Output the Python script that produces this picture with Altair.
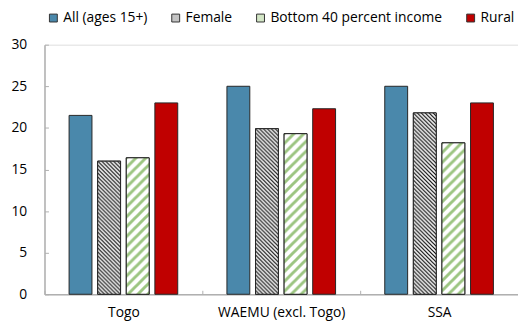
import base64
import altair as alt
import pandas as pd

regions = ["Togo", "WAEMU (excl. Togo)", "SSA"]
series = ["All (ages 15+)", "Female", "Bottom 40 percent income", "Rural"]
all_vals = [21.5, 25.0, 25.0]
female_vals = [16.0, 19.9, 21.8]
bottom_vals = [16.4, 19.3, 18.2]
rural_vals = [23.0, 22.3, 23.0]
y_ticks = [0, 5, 10, 15, 20, 25, 30]

fill_colors = ["#4a88ab", "#c4c4c4", "#d3e6c6", "#c00000"]
FONT = "Open Sans"

hatch_svg = (
    '<svg xmlns="http://www.w3.org/2000/svg" width="100%" height="100%">'
    '<defs><pattern id="h" width="4" height="4" patternUnits="userSpaceOnUse">'
    '<rect width="4" height="4" fill="#ffffff"/>'
    '<path d="M-1,-1L5,5M-1,3L1,5M3,-1L5,1" stroke="#000000" stroke-width="1.2"/>'
    '</pattern></defs><rect width="100%" height="100%" fill="url(#h)"/></svg>'
)
stripe_svg = (
    '<svg xmlns="http://www.w3.org/2000/svg" width="100%" height="100%">'
    '<defs><pattern id="s" width="10" height="10" patternUnits="userSpaceOnUse">'
    '<rect width="10" height="10" fill="#ffffff"/>'
    '<path d="M-2,12L12,-2M-2,2L2,-2M8,12L12,8" stroke="#9cc581" stroke-width="3"/>'
    '</pattern></defs><rect width="100%" height="100%" fill="url(#s)"/></svg>'
)


def to_uri(svg):
    return "data:image/svg+xml;base64," + base64.b64encode(svg.encode("utf-8")).decode("ascii")


pattern_urls = {"Female": to_uri(hatch_svg), "Bottom 40 percent income": to_uri(stripe_svg)}
patterned = list(pattern_urls.keys())

rows = []
for s, vals in zip(series, [all_vals, female_vals, bottom_vals, rural_vals]):
    for r, v in zip(regions, vals):
        rows.append({"region": r, "series": s, "value": v, "url": pattern_urls.get(s, "")})
df = pd.DataFrame(rows)

x_enc = alt.X(
    "region:N",
    sort=regions,
    scale=alt.Scale(paddingInner=0, paddingOuter=0),
    axis=alt.Axis(
        title=None, labelAngle=0, tickBand="extent", tickSize={"expr": "-4"},
        labelPadding=16, labelFontSize=14, labelFont=FONT, labelColor="#000000",
        domainColor="#b0b0b0", domainWidth=1.5, tickColor="#b0b0b0", tickWidth=1,
    ),
)
xo_enc = alt.XOffset(
    "series:N", sort=series,
    scale=alt.Scale(domain=series, paddingInner=0.2, paddingOuter=0.86),
)
y_enc = alt.Y(
    "value:Q",
    scale=alt.Scale(domain=[0, 30], nice=False, zero=True),
    axis=alt.Axis(
        title=None, values=y_ticks, grid=False, tickSize={"expr": "-4"},
        labelPadding=22, labelFontSize=14, labelFont=FONT, labelColor="#000000",
        domainColor="#b0b0b0", domainWidth=1.5, tickColor="#b0b0b0", tickWidth=1,
    ),
)

base = alt.Chart(df)

bars = base.mark_bar(stroke="#262626", strokeWidth=1).encode(
    x=x_enc,
    xOffset=xo_enc,
    y=y_enc,
    color=alt.Color(
        "series:N", sort=series,
        scale=alt.Scale(domain=series, range=fill_colors),
        legend=alt.Legend(
            title=None, orient="none", legendX=2, legendY=-34, direction="horizontal",
            columns=4, symbolType="square", symbolSize=64, symbolStrokeColor="#333333",
            symbolStrokeWidth=1, labelFontSize=14, labelFont=FONT, labelColor="#000000",
            labelLimit=400, columnPadding=21, labelOffset=3,
        ),
    ),
)

images = base.transform_filter(
    alt.FieldOneOfPredicate(field="series", oneOf=patterned)
).mark_image(aspect=False).encode(
    x=x_enc, xOffset=xo_enc, y=y_enc, y2=alt.datum(0), url="url:N",
)

outlines = base.transform_filter(
    alt.FieldOneOfPredicate(field="series", oneOf=patterned)
).mark_bar(fillOpacity=0, stroke="#262626", strokeWidth=1).encode(
    x=x_enc, xOffset=xo_enc, y=y_enc,
)

chart = alt.layer(bars, images, outlines).properties(
    width=480,
    height=253,
    padding={"left": 37, "top": 35, "right": 0, "bottom": 30},
    autosize=alt.AutoSizeParams(type="none"),
).configure_view(stroke=None).configure(font=FONT)

chart.save("out.html", embed_options={"renderer": "svg", "actions": False})
